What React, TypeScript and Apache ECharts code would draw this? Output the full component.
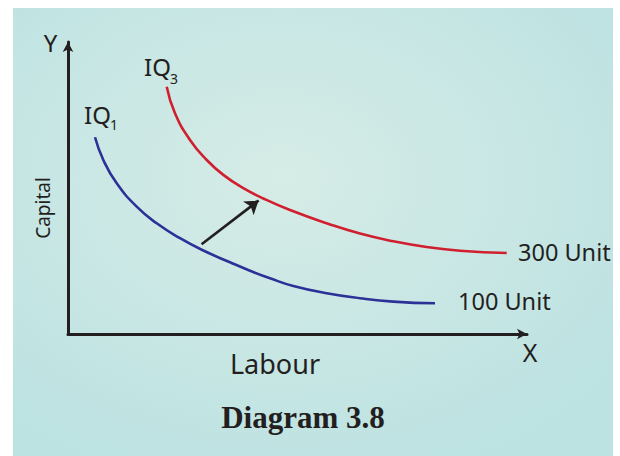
import React, { useEffect, useRef } from "react";
import * as echarts from "echarts";

// Isoquant IQ1 (100 Unit): labour vs capital
const labourIQ1 = [6.75, 8.83, 12.18, 17.18, 22.18, 28, 33.83, 40.5, 45.5, 50.5, 56.33, 64.68, 73, 81.33, 91.75];
const capitalIQ1 = [65.57, 58, 50.23, 42.43, 36.9, 31.93, 27.83, 23.9, 21.1, 18.57, 16, 13.6, 11.93, 10.8, 10.23];
// Isoquant IQ3 (300 Unit)
const labourIQ3 = [24.68, 26.75, 30.5, 34.68, 38.83, 43.83, 48.83, 55.5, 65, 73, 81.33, 89.68, 98, 109.68];
const capitalIQ3 = [82.43, 73.57, 64.67, 58, 53.03, 48.63, 45.17, 41.33, 36.77, 33.47, 30.9, 29, 27.77, 27];
// Shift arrow (from IQ1 towards IQ3)
const arrowFrom = [33.4, 29.9];
const arrowTo = [47.65, 44.5];

const curveNames = ["IQ1", "IQ3"];
const unitLabels = ["100 Unit", "300 Unit"];

const INK = "#231f20";
const SANS = "'Noto Sans', 'Open Sans', sans-serif";

export default function App() {
  const ref = useRef<HTMLDivElement>(null);
  useEffect(() => {
    if (!ref.current) return;
    const chart = echarts.init(ref.current, undefined, { renderer: "svg" });
    const iq1 = labourIQ1.map((x, i) => [x, capitalIQ1[i]]);
    const iq3 = labourIQ3.map((x, i) => [x, capitalIQ3[i]]);
    const txt = (
      text: string,
      x: number,
      y: number,
      size: number,
      align: string = "left",
      extra: any = {}
    ) => ({
      type: "text",
      x,
      y,
      z: 10,
      style: {
        text,
        fill: INK,
        font: `${size}px ${SANS}`,
        align,
        verticalAlign: "middle",
        ...extra,
      },
    });
    chart.setOption({
      animation: false,
      backgroundColor: "#ffffff",
      grid: { left: 68, right: 93, top: 42, bottom: 122 },
      xAxis: {
        type: "value",
        min: 0,
        max: 114.75,
        axisLine: {
          show: true,
          symbol: ["none", "arrow"],
          symbolSize: [8, 10],
          lineStyle: { color: INK, width: 3 },
        },
        axisTick: { show: false },
        axisLabel: { show: false },
        splitLine: { show: false },
      },
      yAxis: {
        type: "value",
        min: 0,
        max: 97.33,
        axisLine: {
          show: true,
          symbol: ["none", "arrow"],
          symbolSize: [8, 10],
          lineStyle: { color: INK, width: 3 },
        },
        axisTick: { show: false },
        axisLabel: { show: false },
        splitLine: { show: false },
      },
      series: [
        {
          name: curveNames[0],
          type: "line",
          data: iq1,
          smooth: 0.5,
          showSymbol: false,
          lineStyle: { color: "#2b3196", width: 2.6 },
          markLine: {
            silent: true,
            symbol: ["none", "arrow"],
            symbolSize: 13,
            label: { show: false },
            lineStyle: { color: INK, width: 2.6, type: "solid" },
            data: [[{ coord: arrowFrom }, { coord: arrowTo }]],
          },
        },
        {
          name: curveNames[1],
          type: "line",
          data: iq3,
          smooth: 0.5,
          showSymbol: false,
          lineStyle: { color: "#d0202f", width: 2.6 },
        },
      ],
      graphic: [
        {
          type: "rect",
          z: -100,
          shape: { x: 13, y: 8, width: 600, height: 448 },
          style: {
            fill: new echarts.graphic.RadialGradient(0.45, 0.38, 0.7, [
              { offset: 0, color: "#d6ece6" },
              { offset: 1, color: "#bce2e2" },
            ]),
          },
        },
        txt("Y", 50.5, 42, 24, "center"),
        txt("X", 530, 352, 25, "center"),
        { ...txt("Capital", 43, 208, 19, "center"), rotation: Math.PI / 2 },
        txt("Labour", 275, 363, 27, "center"),
        txt("IQ", 144, 66, 24),
        txt("3", 170, 78, 14),
        txt("IQ", 84, 114, 24),
        txt("1", 110, 124, 14),
        txt(unitLabels[1], 518, 252, 23.5),
        txt(unitLabels[0], 458, 301, 23.5),
        {
          type: "text",
          x: 303,
          y: 417,
          z: 10,
          style: {
            text: "Diagram 3.8",
            fill: INK,
            font: "bold 31px 'Liberation Serif', 'DejaVu Serif', serif",
            align: "center",
            verticalAlign: "middle",
          },
        },
      ],
    });
    return () => chart.dispose();
  }, []);
  return (
    <div
      ref={ref}
      style={{ position: "fixed", left: 0, top: 0, width: 620, height: 456 }}
    />
  );
}
